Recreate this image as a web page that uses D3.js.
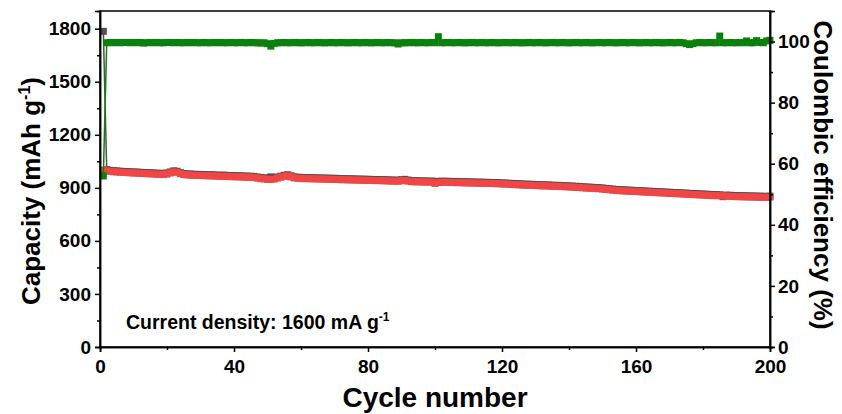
<!DOCTYPE html>
<html>
<head>
<script src="https://cdn.jsdelivr.net/npm/d3@7"></script>
<style>
  body { margin: 0; background: #fff; }
  text { font-family: "Liberation Sans", Arial, sans-serif; font-weight: bold; fill: #000; }
</style>
</head>
<body>
<script>
var w = 842, h = 414;
var margin = { top: 11, right: 72, bottom: 67, left: 100 };
var iw = w - margin.left - margin.right;
var ih = h - margin.top - margin.bottom;

// charge capacity (red), cycles 1..200
var charge = [
  1000, 996, 993, 991, 990, 988, 987, 986, 985, 984,
  983, 982, 981, 980, 979, 978, 977, 976, 976, 978,
  984, 990, 988, 980, 975, 973, 972, 971, 970, 970,
  969, 968, 968, 967, 966, 965, 966, 964, 963, 963,
  962, 962, 961, 960, 960, 958, 955, 952, 950, 948,
  947, 950, 955, 960, 965, 968, 962, 956, 954, 953,
  952, 952, 951, 951, 950, 950, 949, 949, 948, 948,
  947, 946, 946, 945, 945, 944, 944, 943, 943, 942,
  942, 941, 941, 940, 940, 939, 938, 938, 937, 940,
  942, 938, 935, 934, 934, 933, 933, 932, 932, 925,
  930, 932, 931, 931, 930, 930, 929, 929, 928, 928,
  927, 927, 926, 926, 925, 925, 924, 924, 923, 922,
  921, 920, 919, 918, 917, 916, 915, 914, 914, 913,
  912, 911, 911, 910, 909, 908, 908, 907, 906, 905,
  904, 903, 902, 900, 899, 898, 897, 896, 895, 893,
  891, 889, 887, 885, 884, 883, 882, 881, 880, 879,
  878, 877, 876, 875, 874, 873, 872, 871, 870, 869,
  868, 867, 866, 865, 864, 863, 862, 861, 860, 859,
  858, 857, 856, 856, 855, 854, 853, 852, 851, 850,
  850, 849, 849, 848, 848, 847, 847, 846, 846, 848
];

// discharge capacity (grey), cycles 1..200
var discharge = [
  1785, 1003, 999, 997, 996, 994, 993, 992, 991, 990,
  989, 988, 987, 986, 985, 984, 983, 982, 982, 984,
  990, 996, 994, 986, 981, 979, 978, 977, 976, 976,
  975, 974, 974, 973, 972, 971, 972, 970, 969, 969,
  968, 968, 967, 966, 966, 964, 961, 958, 956, 955,
  962, 956, 961, 966, 971, 974, 968, 962, 960, 959,
  958, 958, 957, 957, 956, 956, 955, 955, 954, 954,
  953, 952, 952, 951, 951, 950, 950, 949, 949, 948,
  948, 947, 947, 946, 946, 945, 944, 944, 943, 946,
  948, 944, 941, 940, 940, 939, 939, 938, 938, 937,
  936, 938, 937, 937, 936, 936, 935, 935, 934, 934,
  933, 933, 932, 932, 931, 931, 930, 930, 929, 928,
  927, 926, 925, 924, 923, 922, 921, 920, 920, 919,
  918, 917, 917, 916, 915, 914, 914, 913, 912, 911,
  910, 909, 908, 906, 905, 904, 903, 902, 901, 899,
  897, 895, 893, 891, 890, 889, 888, 887, 886, 885,
  884, 883, 882, 881, 880, 879, 878, 877, 876, 875,
  874, 873, 872, 871, 870, 869, 868, 867, 866, 865,
  864, 863, 862, 862, 861, 850, 859, 858, 857, 856,
  856, 855, 855, 854, 854, 853, 853, 852, 852, 853
];

// coulombic efficiency (green, %), cycles 1..200
var efficiency = [
  56.0, 99.6, 99.7, 99.6, 99.7, 99.6, 99.7, 99.7, 99.6, 99.7,
  99.6, 99.7, 99.5, 99.6, 99.7, 99.6, 99.7, 99.6, 99.6, 99.7,
  99.7, 99.6, 99.7, 99.6, 99.6, 99.7, 99.6, 99.7, 99.6, 99.6,
  99.7, 99.6, 99.6, 99.7, 99.6, 99.7, 99.6, 99.6, 99.7, 99.6,
  99.6, 99.7, 99.6, 99.6, 99.7, 99.6, 99.6, 99.5, 99.6, 99.3,
  98.5, 99.4, 99.6, 99.6, 99.7, 99.6, 99.6, 99.7, 99.6, 99.6,
  99.6, 99.7, 99.6, 99.6, 99.7, 99.6, 99.6, 99.6, 99.7, 99.6,
  99.6, 99.7, 99.6, 99.6, 99.6, 99.7, 99.6, 99.6, 99.7, 99.6,
  99.6, 99.6, 99.7, 99.6, 99.6, 99.7, 99.6, 99.6, 99.2, 99.6,
  99.6, 99.6, 99.7, 99.6, 99.6, 99.7, 99.6, 99.6, 99.7, 99.6,
  101.6, 99.6, 99.6, 99.7, 99.6, 99.6, 99.7, 99.6, 99.6, 99.6,
  99.7, 99.6, 99.6, 99.7, 99.6, 99.6, 99.7, 99.6, 99.6, 99.6,
  99.7, 99.6, 99.6, 99.7, 99.6, 99.6, 99.6, 99.7, 99.6, 99.6,
  99.7, 99.6, 99.6, 99.6, 99.7, 99.6, 99.6, 99.7, 99.6, 99.6,
  99.6, 99.7, 99.6, 99.6, 99.7, 99.6, 99.6, 99.6, 99.7, 99.6,
  99.6, 99.7, 99.6, 99.6, 99.6, 99.7, 99.6, 99.6, 99.7, 99.6,
  99.6, 99.6, 99.7, 99.6, 99.6, 99.7, 99.6, 99.6, 99.6, 99.7,
  99.6, 99.6, 99.7, 99.6, 99.3, 99.0, 99.3, 99.6, 99.7, 99.6,
  99.6, 99.7, 99.6, 99.6, 101.8, 99.6, 99.6, 99.7, 99.6, 99.6,
  99.7, 99.6, 100.2, 99.6, 99.6, 100.3, 99.7, 99.6, 100.2, 100.4
];

var xTicks = [0, 40, 80, 120, 160, 200];
var yLeftTicks = [0, 300, 600, 900, 1200, 1500, 1800];
var yRightTicks = [0, 20, 40, 60, 80, 100];

var svg = d3.select("body").append("svg")
  .attr("width", w)
  .attr("height", h);

var g = svg.append("g")
  .attr("transform", "translate(" + margin.left + "," + margin.top + ")");

var x = d3.scaleLinear().domain([0, 200]).range([0, iw]);
var yL = d3.scaleLinear().domain([0, 1900]).range([ih, 0]);
var yR = d3.scaleLinear().domain([0, 110]).range([ih, 0]);

function toPts(arr) {
  return arr.map(function (v, i) { return { c: i + 1, v: v }; });
}

function drawSeries(arr, y, color, size) {
  var pts = toPts(arr);
  var line = d3.line()
    .x(function (d) { return x(d.c); })
    .y(function (d) { return y(d.v); });
  g.append("path")
    .datum(pts)
    .attr("fill", "none")
    .attr("stroke", color)
    .attr("stroke-width", 1.5)
    .attr("d", line);
  g.append("g").selectAll("rect")
    .data(pts)
    .enter().append("rect")
    .attr("x", function (d) { return x(d.c) - size / 2; })
    .attr("y", function (d) { return y(d.v) - size / 2; })
    .attr("width", size)
    .attr("height", size)
    .attr("fill", color);
}

drawSeries(discharge, yL, "#505050", 7);
drawSeries(charge, yL, "#f04646", 7);
drawSeries(efficiency, yR, "#0c800c", 7);

// frame
g.append("rect")
  .attr("width", iw)
  .attr("height", ih)
  .attr("fill", "none")
  .attr("stroke", "#000")
  .attr("stroke-width", 1.5);

var fmt = d3.format("d");

g.append("g")
  .attr("transform", "translate(0," + ih + ")")
  .call(d3.axisBottom(x).tickValues(xTicks).tickFormat(fmt).tickSize(5).tickPadding(8));
g.append("g")
  .attr("transform", "translate(0," + ih + ")")
  .call(d3.axisBottom(x).tickValues([20, 60, 100, 140, 180]).tickSize(3).tickFormat(""));

g.append("g")
  .call(d3.axisLeft(yL).tickValues(yLeftTicks).tickFormat(fmt).tickSize(5).tickPadding(4));
g.append("g")
  .call(d3.axisLeft(yL).tickValues([150, 450, 750, 1050, 1350, 1650]).tickSize(3).tickFormat(""));

g.append("g")
  .attr("transform", "translate(" + iw + ",0)")
  .call(d3.axisRight(yR).tickValues(yRightTicks).tickFormat(fmt).tickSize(5).tickPadding(3));
g.append("g")
  .attr("transform", "translate(" + iw + ",0)")
  .call(d3.axisRight(yR).tickValues([10, 30, 50, 70, 90]).tickSize(3).tickFormat(""));

g.selectAll(".domain").attr("stroke", "#000").attr("stroke-width", 1.5);
g.selectAll(".tick line").attr("stroke", "#000").attr("stroke-width", 1.5);
g.selectAll(".tick text")
  .style("font-size", "19px")
  .style("font-family", "'Liberation Sans', Arial, sans-serif")
  .style("font-weight", "bold")
  .attr("fill", "#000");

// axis titles
svg.append("text")
  .attr("x", margin.left + iw / 2)
  .attr("y", 407)
  .attr("text-anchor", "middle")
  .style("font-size", "28px")
  .text("Cycle number");

var lt = svg.append("text")
  .attr("transform", "translate(40," + (margin.top + ih / 2 + 12) + ") rotate(-90)")
  .attr("text-anchor", "middle")
  .style("font-size", "26px");
lt.append("tspan").text("Capacity (mAh g");
lt.append("tspan").attr("dy", -10).style("font-size", "16px").text("-1");
lt.append("tspan").attr("dy", 10).text(")");

svg.append("text")
  .attr("transform", "translate(814," + (margin.top + ih / 2 - 4) + ") rotate(90)")
  .attr("text-anchor", "middle")
  .style("font-size", "26px")
  .text("Coulombic efficiency (%)");

var note = svg.append("text")
  .attr("x", 126)
  .attr("y", 329)
  .style("font-size", "19.5px");
note.append("tspan").text("Current density: 1600 mA g");
note.append("tspan").attr("dy", -8).style("font-size", "12px").text("-1");
</script>
</body>
</html>
